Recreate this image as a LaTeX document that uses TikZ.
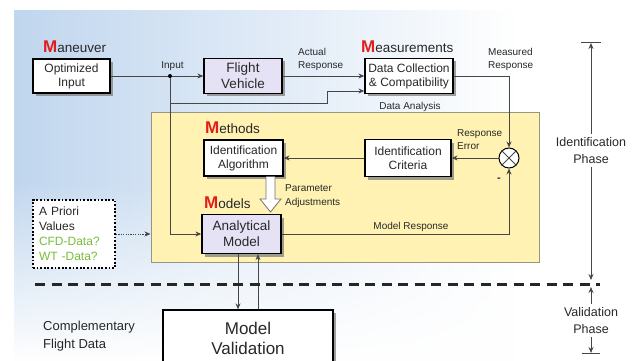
\documentclass[tikz,border=0pt]{standalone}
\usepackage{fontspec}
\setmainfont{Liberation Sans}
\usetikzlibrary{arrows.meta,shadows,calc,fadings}

\definecolor{bgblue}{RGB}{192,214,238}
\definecolor{yel}{RGB}{255,242,178}
\definecolor{ybord}{RGB}{150,150,128}
\definecolor{lav}{RGB}{230,226,246}
\definecolor{ink}{RGB}{40,40,40}
\definecolor{ln}{RGB}{70,70,70}
\definecolor{mred}{RGB}{225,30,30}
\definecolor{cfd}{RGB}{118,190,60}

\newcommand{\fsz}[2]{\fontsize{#1pt}{#2pt}\selectfont}

\tikzset{
  box/.style={draw=black, line width=1.3pt, fill=white, text=ink, align=center,
    font=\fsz{12}{14}, inner sep=0pt,
    drop shadow={shadow xshift=3pt, shadow yshift=-3pt, fill=black!50, opacity=0.75}},
  lbl/.style={text=ink, font=\fsz{10}{13}, inner sep=0pt, align=left},
  mlabel/.style={text=ink, font=\fsz{13.5}{15}, inner sep=0pt, anchor=base west},
  conn/.style={draw=ln, line width=0.9pt},
  arr/.style={conn, -{Stealth[length=6pt,width=5pt]}},
  phase/.style={text=ink, font=\fsz{12.5}{17}, align=center, inner sep=3.5pt},
}

\begin{document}
\begin{tikzpicture}[x=1pt,y=-1pt]
\useasboundingbox (0,0) rectangle (638,361);
\fill[white] (0,0) rectangle (638,361);
\shade[left color=bgblue, right color=white] (14,11) rectangle (520,361);
\fill[white, path fading=north] (14,180) rectangle (520,361);

% yellow identification area
\node[draw=ybord, fill=yel, line width=1pt, minimum width=388pt, minimum height=149pt, inner sep=0pt] (ybox) at (345,187.5) {};

% main boxes
\node[box, minimum width=77pt, minimum height=34pt] (man) at (71.5,76) {Optimized\\Input};
\node[box, fill=lav, font=\fsz{13.5}{16}, minimum width=78pt, minimum height=35pt] (fv) at (243,76) {Flight\\Vehicle};
\node[box, minimum width=88pt, minimum height=35pt] (meas) at (409,76) {Data Collection\\\& Compatibility};
\node[box, minimum width=79pt, minimum height=36pt] (alg) at (243.5,158) {Identification\\Algorithm};
\node[box, minimum width=86pt, minimum height=37pt] (crit) at (408,158) {Identification\\Criteria};
\node[box, fill=lav, font=\fsz{13.5}{16}, minimum width=79pt, minimum height=39pt] (model) at (241.5,234) {Analytical\\Model};
\node[box, font=\fsz{17}{20}, minimum width=170pt, minimum height=56pt] (val) at (248,338) {Model\\Validation};

% section labels
\node[mlabel] (lman) at (43,53) {{\color{mred}\fsz{17}{17}\bfseries M}aneuver};
\node[mlabel] (lmeas) at (361,53) {{\color{mred}\fsz{17}{17}\bfseries M}easurements};
\node[mlabel] (lmeth) at (205,134) {{\color{mred}\fsz{17}{17}\bfseries M}ethods};
\node[mlabel] (lmod) at (204,208) {{\color{mred}\fsz{17}{17}\bfseries M}odels};

% summing junction
\node[circle, draw=black, line width=1pt, fill=white, minimum size=20pt, inner sep=0pt] (sum) at (509,158) {};
\draw[ln, line width=0.8pt] (sum.north west) -- (sum.south east) (sum.north east) -- (sum.south west);

% a priori box
\node[draw=black, line width=1.8pt, dash pattern=on 1.8pt off 1.8pt, fill=white,
  minimum width=82pt, minimum height=68pt, text width=70pt, align=left,
  font=\fsz{12}{15}, text=ink, inner sep=0pt] (apr) at (74,234)
  {A Priori\\Values\\\textcolor{cfd}{CFD-Data?}\\\textcolor{cfd}{WT -Data?}};

% connectors
\coordinate (split) at (170,76);
\coordinate (mlow) at ($(meas.west)+(0,15)$);
\coordinate (dx1) at (238,0);
\coordinate (dx2) at (258,0);
\draw[arr] (man.east) -- (fv.west);
\draw[arr] (split) |- (model.west);
\draw[arr] (split) |- (327,103) |- (mlow);
\draw[arr] (fv.east) -- (meas.west);
\draw[arr] (meas.east) -| (sum.north);
\draw[arr] (sum.west) -- (crit.east);
\draw[arr] (crit.west) -- (alg.east);
\draw[arr] (model.east) -| (sum.south);
\draw[arr, dash pattern=on 1.2pt off 1.2pt] (apr.east) -- (apr.east -| ybox.west);
\draw[arr] (model.south -| dx1) -- (val.north -| dx1);
\draw[arr] (val.north -| dx2) -- (model.south -| dx2);
\fill[black] (split) circle (2pt);

% hollow parameter-adjustment arrow
\draw[draw=black!55, fill=white, line width=0.8pt]
  (266,176.5) -- (266,199) -- (260,199) -- (270.5,212) -- (281,199) -- (275,199) -- (275,176.5);

% labels on connectors
\node[lbl] (linput) at (172.5,66) {Input};
\node[lbl, anchor=west] (lact) at (298,59.5) {Actual\\Response};
\node[lbl, anchor=west] (lmr2) at (488,59.5) {Measured\\Response};
\node[lbl] (lda) at (410,107) {Data Analysis};
\node[lbl, anchor=west] (lre) at (457,139.5) {Response\\Error};
\node[lbl, font=\fsz{11}{13}\bfseries] (lminus) at (499,180) {-};
\node[lbl, anchor=west, font=\fsz{10}{14}] (lpa) at (285,196) {Parameter\\Adjustments};
\node[lbl] (lmr) at (411,227) {Model Response};
\node[text=ink, font=\fsz{13}{18}, align=left, anchor=west, inner sep=0pt] (lcomp) at (43,336.5) {Complementary\\Flight Data};

% phase separator
\coordinate (dl) at (35,284);
\coordinate (dr) at (600,284);
\draw[black!85, line width=3pt, dash pattern=on 10pt off 6.5pt] (dl) -- (dr);

% phase arrows
\coordinate (itop) at (591,43);
\coordinate (ibot) at (591,280);
\coordinate (vtop) at (591,287);
\coordinate (vbot) at (591,353);
\node[phase] (idp) at (591,150.5) {Identification\\Phase};
\node[phase] (vp) at (591,320.5) {Validation\\Phase};
\draw[arr] (idp.north) -- (itop);
\draw[arr] (idp.south) -- (ibot);
\draw[arr] (vp.north) -- (vtop);
\draw[arr] (vp.south) -- (vbot);
\draw[ln, line width=1pt] ($(itop)+(-10,0)$) -- ($(itop)+(10,0)$);
\draw[ln, line width=1pt] ($(vbot)+(-9,0)$) -- ($(vbot)+(9,0)$);
\end{tikzpicture}
\end{document}
